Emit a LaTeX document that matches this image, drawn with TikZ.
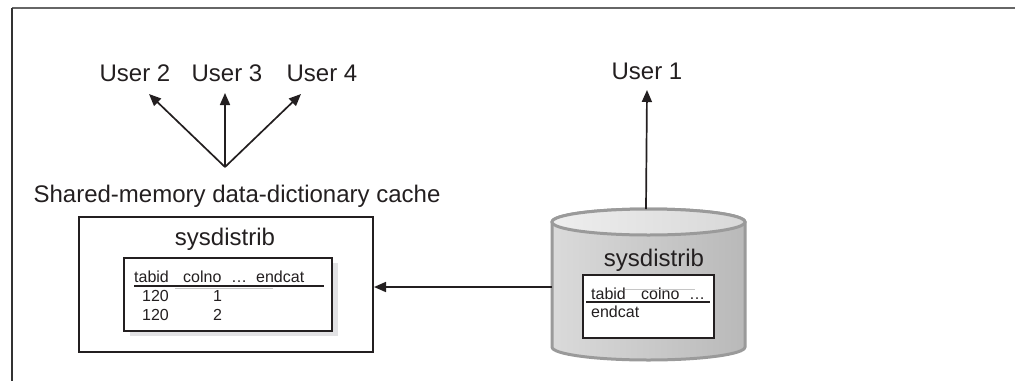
\documentclass[tikz,border=0pt]{standalone}
\usepackage{fontspec}
\setmainfont{Liberation Sans}
\usetikzlibrary{arrows.meta}
\definecolor{txt}{HTML}{231F20}
\definecolor{cylline}{HTML}{9A9A9A}
\definecolor{cylL}{HTML}{DADADA}
\definecolor{cylR}{HTML}{B9B9B9}
\definecolor{topL}{HTML}{EEEEEE}
\definecolor{topR}{HTML}{D8D8D8}
\definecolor{shadowc}{HTML}{E2E2E4}
\tikzset{
  big/.style={inner sep=0pt, font=\fontsize{24}{28}\selectfont, text=txt, anchor=base},
  small/.style={inner sep=0pt, font=\fontsize{16}{19}\selectfont, text=txt, anchor=base west},
  arr/.style={line width=1.7pt, draw=txt, -{Triangle[length=12pt,width=10pt]}},
  conn/.style={line width=1.6pt, draw=txt},
  boxline/.style={line width=2pt, draw=txt},
  rule/.style={line width=2.4pt, draw=txt},
  faint/.style={line width=0.8pt, draw=gray!45},
}
\begin{document}
\begin{tikzpicture}[x=1pt,y=-1pt]
\useasboundingbox (0,0) rectangle (1015,381);
% frame
\draw[line width=2pt, draw=black!60] (12,8) -- (1015,8);
\draw[line width=2pt, draw=black!80] (12,8) -- (12,381);

% users
\node[big] (user2) at (135,81) {User 2};
\node[big] (user3) at (227,81) {User 3};
\node[big] (user4) at (322,81) {User 4};
\node[big] (user1) at (647,79) {User 1};
\coordinate (hub) at (225,167);
\coordinate (t2) at (149,94);
\coordinate (t3) at (225,93);
\coordinate (t4) at (301,94);
\draw[arr] (hub) -- (t2);
\draw[arr] (hub) -- (t3);
\draw[arr] (hub) -- (t4);

% cache label and box
\node[big] (cachelbl) at (237,202) {Shared-memory data-dictionary cache};
\node[boxline, draw, fill=white, minimum width=294pt, minimum height=135pt, inner sep=0pt] (cache) at (226,284.5) {};
\node[big] (sys1) at (225,245) {sysdistrib};
% table with shadow
\fill[shadowc] (130,263) rectangle (338,336);
\node[boxline, draw, fill=white, minimum width=208pt, minimum height=73pt, inner sep=0pt] (tab1) at (228,294.5) {};
\node[small] (h1a) at (134,282) {tabid};
\node[small] (h1b) at (183,282) {colno};
\node[small] (h1c) at (231,282) {\dots};
\node[small] (h1d) at (256,282) {endcat};
\draw[faint] (175,288.5) -- (273,288.5);
\draw[rule] (134,286) -- (324,286);
\node[small] (r1a) at (142,301) {120};
\node[small] (r1b) at (213,301) {1};
\node[small] (r2a) at (142,320) {120};
\node[small] (r2b) at (213,320) {2};

% cylinder
\shade[left color=cylL, right color=cylR, draw=cylline, line width=3pt]
  (552,222) -- (552,347) arc[start angle=180, end angle=360, x radius=96.5pt, y radius=13pt]
  -- (745,222) arc[start angle=0, end angle=180, x radius=96.5pt, y radius=13pt] -- cycle;
\shade[left color=topL, right color=topR, draw=cylline, line width=3pt]
  (648.5,222) ellipse[x radius=96.5pt, y radius=13pt];
\coordinate (cyltop) at (646,209);
\coordinate (cylleft) at (552,287);
\node[big] (sys2) at (654,266) {sysdistrib};
\node[boxline, draw, fill=white, minimum width=131pt, minimum height=63pt, inner sep=0pt] (tab2) at (648.5,306.5) {};
\node[small] (h2a) at (591,299) {tabid};
\node[small] (h2b) at (641,299) {colno};
\node[small] (h2c) at (689,299) {\dots};
\draw[faint] (625,289) -- (695,289);
\draw[rule] (586,302) -- (710,302);
\node[small] (r3a) at (591,317) {endcat};

% connectors
\draw[arr] (cyltop) -- (user1.south |- 0,90);
\draw[arr] (cylleft) -- (cache.east |- cylleft);
\end{tikzpicture}
\end{document}
